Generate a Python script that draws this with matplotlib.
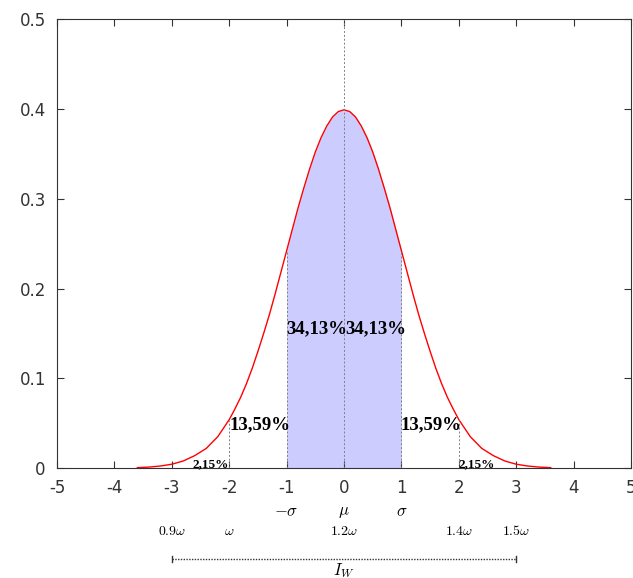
import numpy as np
import matplotlib.pyplot as plt

plt.rcParams['mathtext.fontset'] = 'cm'
plt.rcParams['axes.unicode_minus'] = False

# curve samples (right half, mirrored)
xs_half = [0.0, 0.1, 0.2, 0.3, 0.4, 0.5, 0.6, 0.7, 0.8, 0.9, 1.0,
           1.1, 1.2, 1.3, 1.4, 1.5, 1.6, 1.7, 1.8, 1.9, 2.0,
           2.2, 2.4, 2.6, 2.8, 3.0, 3.2, 3.4, 3.6]
ys_half = [0.399, 0.397, 0.391, 0.381, 0.368, 0.352, 0.333, 0.312, 0.290,
           0.266, 0.242, 0.218, 0.194, 0.171, 0.150, 0.130, 0.111, 0.094,
           0.079, 0.066, 0.054, 0.035, 0.022, 0.014, 0.008, 0.0044, 0.0024,
           0.0012, 0.0006]
x = [-v for v in xs_half[:0:-1]] + xs_half
y = ys_half[:0:-1] + ys_half

guides = [-2, -1, 1, 2]
sigma_pos = [-1, 0, 1]
sigma_labels = [r'$-\sigma$', r'$\mu$', r'$\sigma$']
w_pos = [-3, -2, 0, 2, 3]
w_labels = [r'$0.9\omega$', r'$\omega$', r'$1.2\omega$', r'$1.4\omega$', r'$1.5\omega$']
pct = [('34,13%', -1.0, 0.155, 'left', 13.5), ('34,13%', 0.02, 0.155, 'left', 13.5),
       ('13,59%', -2.0, 0.048, 'left', 13.5), ('13,59%', 0.99, 0.048, 'left', 13.5),
       ('2,15%', -2.0, 0.005, 'right', 9.5), ('2,15%', 2.0, 0.005, 'left', 9.5)]

fig = plt.figure(figsize=(6.33, 5.78), dpi=100)
ax = fig.add_axes([0.090, 0.190, 0.907, 0.777])

xa = np.array(x)
ya = np.array(y)
m = (xa >= -1) & (xa <= 1)
ax.fill_between(xa[m], 0, ya[m], color='#ccccff', lw=0)
ax.plot(x, y, color='red', lw=1)

for g in guides:
    ax.plot([g, g], [0, np.interp(g, x, y)], color='gray', ls=(0, (2, 2)), lw=0.7)
ax.plot([0, 0], [0, 0.5], color='gray', ls=(0, (2, 2)), lw=0.7)

for t, px, py, ha, fs in pct:
    ax.text(px, py, t, ha=ha, va='center', fontsize=fs, fontweight='bold',
            family='Liberation Serif')

ax.set_xlim(-5, 5)
ax.set_ylim(0, 0.5)
ax.set_xticks(range(-5, 6))
ax.set_yticks([0, 0.1, 0.2, 0.3, 0.4, 0.5])
ax.set_yticklabels(['0', '0.1', '0.2', '0.3', '0.4', '0.5'])
ax.tick_params(direction='in', top=True, right=True, labelsize=12, length=5,
               pad=8, colors='#333333')
for s in ax.spines.values():
    s.set_color('#333333')

tr = ax.get_xaxis_transform()
for p, l in zip(sigma_pos, sigma_labels):
    ax.text(p, -0.095, l, transform=tr, ha='center', va='center', fontsize=12)
for p, l in zip(w_pos, w_labels):
    ax.text(p, -0.14, l, transform=tr, ha='center', va='center', fontsize=10)

ax.plot([-3, 3], [-0.202, -0.202], transform=tr, clip_on=False, color='#333333',
        ls=(0, (1, 1)), lw=1)
for e in [-3, 3]:
    ax.plot([e, e], [-0.195, -0.209], transform=tr, clip_on=False, color='#333333', lw=1)
ax.text(0, -0.228, r'$I_W$', transform=tr, ha='center', va='center', fontsize=12)

plt.savefig('out.png', dpi=100)
